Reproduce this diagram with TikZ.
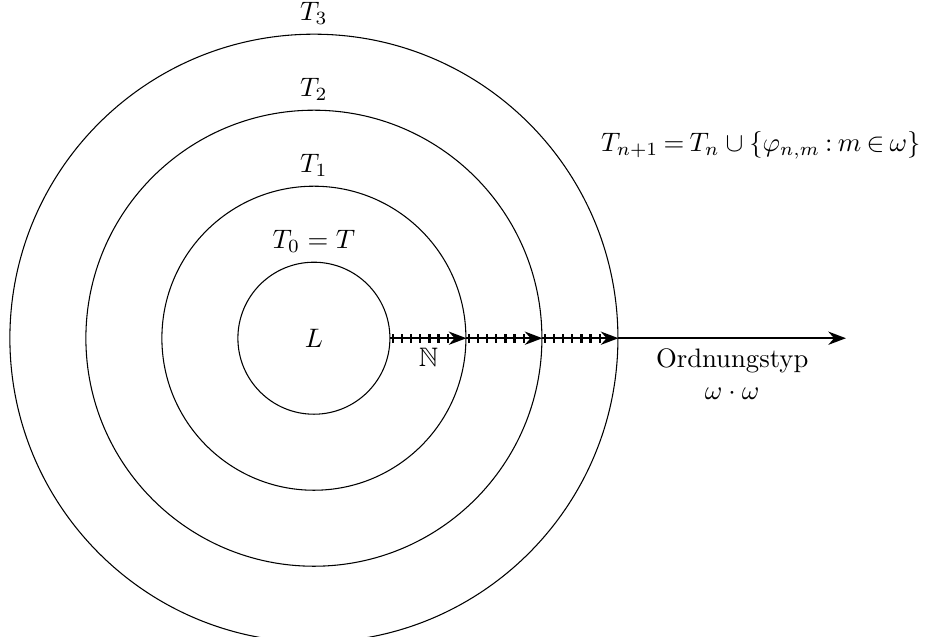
\documentclass[tikz,border=0pt]{standalone}
\usepackage{amssymb}
\usetikzlibrary{arrows.meta}
\begin{document}
\begin{tikzpicture}[
    ring/.style={circle,draw,inner sep=0pt},
    ray/.style={thick,-Stealth}]
    \useasboundingbox (-4.13,-3.93) rectangle (8.04,4.45);
    % die Theorien als Ringe
    \node[ring,minimum size=2cm] (L) at (0,0) {$L$};
    \node[ring,minimum size=4cm] (T1) at (0,0) {};
    \node[ring,minimum size=6cm] (T2) at (0,0) {};
    \node[ring,minimum size=8cm] (T3) at (0,0) {};
    \node[above] (l0) at (L.north) {$T_0 = T$};
    \node[above] (l1) at (T1.north) {$T_1$};
    \node[above] (l2) at (T2.north) {$T_2$};
    \node[above] (l3) at (T3.north) {$T_3$};
    % Strahl mit Strichen
    \coordinate (end) at (7,0);
    \foreach \r in {1,2,3} {
        \foreach \k in {0,...,6} {
            \draw[thick] (\r+0.04+0.12*\k,-0.06) -- ++(0,0.12);
        }
    }
    \draw[ray] (L.east) -- (T1.east) node[midway,below] (nat) {$\mathbb{N}$};
    \draw[ray] (T1.east) -- (T2.east);
    \draw[ray] (T2.east) -- (T3.east);
    \draw[ray] (T3.east) -- (end)
        node[midway,below,align=center] (typ) {Ordnungstyp\\$\omega\cdot\omega$};
    \node (rule) at (5.88,2.54)
        {\thickmuskip=3.5mu$T_{n+1} = T_n \cup \{\varphi_{n,m} : m \in \omega\}$};
\end{tikzpicture}
\end{document}
